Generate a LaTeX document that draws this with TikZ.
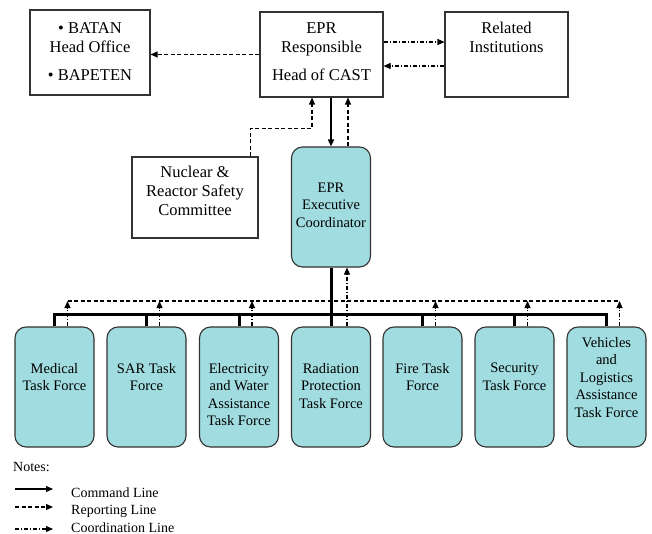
\documentclass[tikz,border=0pt]{standalone}
\usepackage{fontspec}
\setmainfont{Liberation Serif}
\usetikzlibrary{arrows.meta}

\definecolor{tfcyan}{RGB}{160,220,224}
\newcommand{\bigtxt}{\fontsize{16.5}{19}\selectfont}
\newcommand{\tftxt}{\fontsize{14.5}{17.5}\selectfont}
\newcommand{\notetxt}{\fontsize{14}{17}\selectfont}

\begin{document}
\begin{tikzpicture}[x=1pt,y=-1pt,
    box/.style={draw=black!80,line width=1.1pt,inner sep=0pt},
    tforce/.style={box,fill=tfcyan,rounded corners=11pt,minimum width=79pt,minimum height=120pt},
    txt/.style={align=center,inner sep=0pt,anchor=north},
    tip/.style={-{Triangle[length=7pt,width=6pt]}},
    cmd/.style={line width=1.6pt,tip},
    busline/.style={line width=3pt},
    report/.style={line width=1.1pt,dash pattern=on 4pt off 2.5pt},
    coordin/.style={line width=1.1pt,dash pattern=on 4pt off 2pt on 1pt off 2pt}]
\useasboundingbox (0,0) rectangle (652,534);

% top row
\node[box,minimum width=120pt,minimum height=85pt] (batan) at (90,52.5) {};
\node[txt,font=\bigtxt] (batantxt) at (90,22)
  {\textbullet\ BATAN\\Head Office\\[9pt]\textbullet\ BAPETEN};
\node[box,minimum width=123pt,minimum height=85pt] (epr) at (321.5,54.5) {};
\node[txt,font=\bigtxt] (eprtxt) at (321.5,22) {EPR\\Responsible\\[9pt]Head of CAST};
\node[box,minimum width=123pt,minimum height=85pt] (rel) at (506.5,54.5) {};
\node[txt,font=\bigtxt] (reltxt) at (506.5,22) {Related\\Institutions};

% committee and coordinator
\node[box,minimum width=126pt,minimum height=81pt] (nrsc) at (195,197.5) {};
\node[txt,font=\bigtxt] (nrsctxt) at (195,166) {Nuclear \&\\Reactor Safety\\Committee};
\node[tforce] (coord) at (331,207) {};
\node[txt,font=\tftxt,text depth=0pt] (coordtxt) at (331,182.5) {EPR\\Executive\\Coordinator};

% task forces
\foreach \n/\cx/\ty/\txt in {
    1/54.5/363/{Medical\\Task Force},
    2/146.5/363/{SAR Task\\Force},
    3/239/363/{Electricity\\and Water\\Assistance\\Task Force},
    4/331/363/{Radiation\\Protection\\Task Force},
    5/422.5/363/{Fire Task\\Force},
    6/514.5/363/{Security\\Task Force},
    7/606.5/337/{Vehicles\\and\\Logistics\\Assistance\\Task Force}}{
  \node[tforce] (tf\n) at (\cx,387) {};
  \node[txt,font=\tftxt] (tf\n txt) at (\cx,\ty) {\txt};
}

\coordinate (bus) at (0,314);
\coordinate (rep) at (0,301);

% command lines
\draw[cmd] (epr.south -| coord.north) -- (coord.north);
\draw[busline] (coord.south) -- (tf4.north);
\draw[busline] (tf1.north) -- (tf1.north |- bus) -- (tf7.north |- bus) -- (tf7.north);
\foreach \n in {2,3,5,6}
  \draw[busline] (tf\n.north) -- (tf\n.north |- bus);

% reporting lines
\draw[report,tip] (epr.west) -- (epr.west -| batan.east);
\draw[report,tip] ([xshift=17pt]coord.north) -- ([xshift=17pt]coord.north |- epr.south);
\draw[report,tip] ([xshift=-8pt]nrsc.north east) -- ++(0,-28) -| ([xshift=-9.5pt]epr.south);
\draw[report] ([xshift=13pt]tf1.north |- rep) -- ([xshift=13pt]tf7.north |- rep);

% coordination lines
\draw[coordin,tip] ([yshift=12.5pt]epr.east) -- ([yshift=12.5pt]epr.east -| rel.west);
\draw[coordin,tip] ([yshift=-11.5pt]rel.west) -- ([yshift=-11.5pt]rel.west -| epr.east);
\foreach \n in {1,2,3,5,6,7}
  \draw[coordin,tip] ([xshift=13pt]tf\n.north) -- ([xshift=13pt]tf\n.north |- rep);
\draw[coordin,tip] ([xshift=16pt]tf4.north) -- ([xshift=16pt]tf4.north |- coord.south);

% legend
\node[anchor=north west,inner sep=0pt,font=\notetxt] (notes) at (13,462) {Notes:};
\coordinate (cmda) at (15,489);  \coordinate (cmdb) at (53,489);
\coordinate (repa) at (15,507);  \coordinate (repb) at (53,507);
\coordinate (cooa) at (15,529);  \coordinate (coob) at (53,529);
\draw[cmd,line width=1.1pt] (cmda) -- (cmdb);
\draw[report,tip] (repa) -- (repb);
\draw[coordin,tip] (cooa) -- (coob);
\node[anchor=base west,inner sep=0pt,font=\notetxt] (cmdlbl) at (71,497) {Command Line};
\node[anchor=base west,inner sep=0pt,font=\notetxt] (replbl) at (71,514) {Reporting Line};
\node[anchor=base west,inner sep=0pt,font=\notetxt] (coolbl) at (71,532) {Coordination Line};
\end{tikzpicture}
\end{document}
